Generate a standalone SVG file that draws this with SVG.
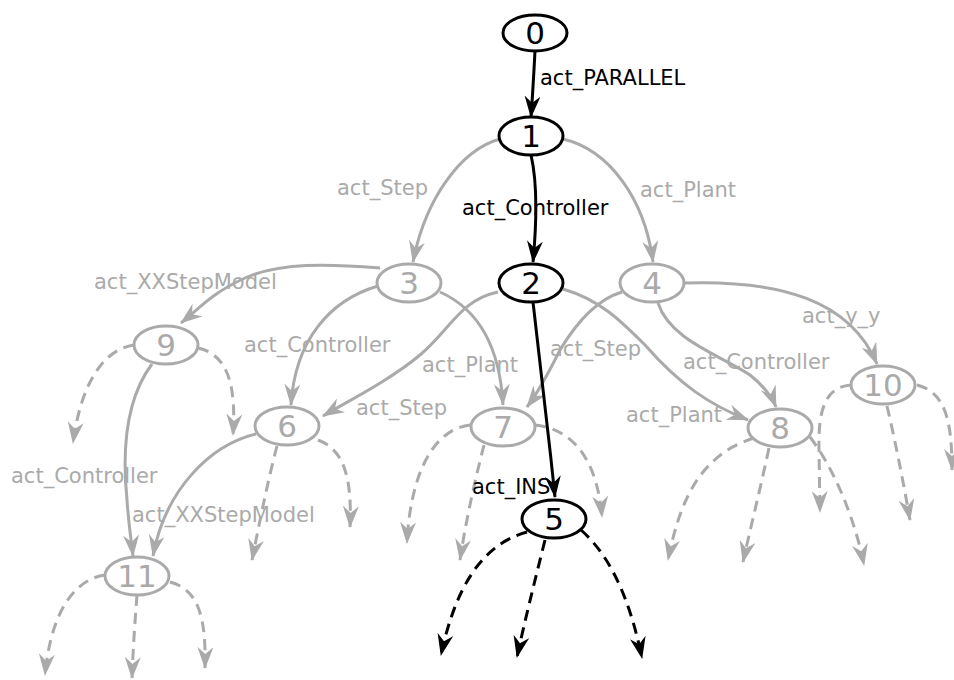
<svg xmlns="http://www.w3.org/2000/svg" width="954" height="680" viewBox="0 0 954 680">
<style>
  .e { fill: none; stroke-width: 3; stroke-linecap: butt; }
  .g { stroke: #aaaaaa; }
  .k { stroke: #000000; }
  .d { stroke-dasharray: 11 7; }
  .gs { stroke: #aaaaaa; marker-end: url(#ag); }
  .ks { stroke: #000000; marker-end: url(#ak); }
  .n { fill: none; stroke-width: 3; }
  .nl { font-family: "DejaVu Sans", sans-serif; font-size: 31px; text-anchor: middle; }
  .el { font-family: "DejaVu Sans", sans-serif; font-size: 21px; }
  .tg { fill: #aaaaaa; }
  .tk { fill: #000000; }
</style>
<defs>
  <marker id="ag" markerUnits="userSpaceOnUse" viewBox="0 0 22 16" refX="21" refY="8" markerWidth="22" markerHeight="16" orient="auto">
    <path d="M0,0 L22,8 L0,16 L7,8 Z" fill="#aaaaaa"/>
  </marker>
  <marker id="ak" markerUnits="userSpaceOnUse" viewBox="0 0 22 16" refX="21" refY="8" markerWidth="22" markerHeight="16" orient="auto">
    <path d="M0,0 L22,8 L0,16 L7,8 Z" fill="#000000"/>
  </marker>
</defs>
<rect width="954" height="680" fill="#ffffff"/>
<g id="connectors">
  <!-- solid gray edges -->
  <path class="e gs" d="M500,139 C460,150 425,200 413,262"/>
  <path class="e gs" d="M563,139 C610,150 645,200 653,262"/>
  <path class="e gs" d="M380,268 C330,264 280,262 245,278 S200,308 181,323"/>
  <path class="e gs" d="M378,286 C330,300 295,340 291,405"/>
  <path class="e gs" d="M440,292 C480,310 500,350 503,405"/>
  <path class="e gs" d="M498,292 C460,300 450,330 420,355 C390,380 350,400 323,416"/>
  <path class="e gs" d="M622,292 C595,300 575,325 560,350 C550,370 540,390 527,407"/>
  <path class="e gs" d="M563,289 C600,300 620,320 645,345 C680,385 710,405 748,420"/>
  <path class="e gs" d="M658,303 C670,340 720,355 750,375 C765,387 772,397 776,407"/>
  <path class="e gs" d="M685,283 C780,280 850,300 877,364"/>
  <path class="e gs" d="M152,364 C125,400 122,450 127,500 C129,530 132,545 133,556"/>
  <path class="e gs" d="M256,434 C210,445 165,490 153,556"/>
  <!-- dashed gray stubs -->
  <path class="e gs d" d="M134,345 C100,350 80,390 73,443"/>
  <path class="e gs d" d="M198,348 C230,355 236,390 233,435"/>
  <path class="e gs d" d="M277,446 C268,480 260,520 252,560"/>
  <path class="e gs d" d="M318,440 C345,450 352,480 350,527"/>
  <path class="e gs d" d="M470,425 C430,430 410,480 407,543"/>
  <path class="e gs d" d="M484,445 C475,480 466,520 460,560"/>
  <path class="e gs d" d="M535,425 C580,430 598,470 602,517"/>
  <path class="e gs d" d="M754,438 C700,455 680,500 668,560"/>
  <path class="e gs d" d="M769,448 C760,490 750,530 743,562"/>
  <path class="e gs d" d="M810,437 C835,470 855,520 864,565"/>
  <path class="e gs d" d="M851,385 C825,387 818,410 819,450 L820,512"/>
  <path class="e gs d" d="M887,406 C895,440 903,480 910,520"/>
  <path class="e gs d" d="M917,385 C945,392 952,420 952,470"/>
  <path class="e gs d" d="M105,575 C70,580 50,620 45,675"/>
  <path class="e gs d" d="M137,595 C135,620 133,650 132,678"/>
  <path class="e gs d" d="M170,582 C200,590 206,620 205,668"/>
  <!-- black edges -->
  <path class="e ks" d="M535,51 C534,70 533,90 531,117"/>
  <path class="e ks" d="M531,155 C538,185 536,230 533,262"/>
  <path class="e ks" d="M533,302 C540,360 548,430 555,497"/>
  <path class="e ks d" d="M527,532 C480,545 455,590 441,655"/>
  <path class="e ks d" d="M545,540 C535,580 525,620 517,657"/>
  <path class="e ks d" d="M581,530 C615,560 632,610 642,658"/>
  <!-- edge labels -->
  <text class="el tk" x="540" y="85">act_PARALLEL</text>
  <text class="el tg" x="337" y="195">act_Step</text>
  <text class="el tk" x="462" y="215">act_Controller</text>
  <text class="el tg" x="640" y="197">act_Plant</text>
  <text class="el tg" x="94" y="289">act_XXStepModel</text>
  <text class="el tg" x="244" y="352">act_Controller</text>
  <text class="el tg" x="422" y="372">act_Plant</text>
  <text class="el tg" x="356" y="415">act_Step</text>
  <text class="el tg" x="550" y="356">act_Step</text>
  <text class="el tg" x="683" y="369">act_Controller</text>
  <text class="el tg" x="626" y="422">act_Plant</text>
  <text class="el tg" x="802" y="323">act_y_y</text>
  <text class="el tg" x="11" y="483">act_Controller</text>
  <text class="el tg" x="132" y="522">act_XXStepModel</text>
  <text class="el tk" x="472" y="494">act_INS</text>
</g>
<g id="node-0"><ellipse class="n k" cx="535" cy="33" rx="32" ry="18"/><text class="nl tk" x="535" y="44">0</text></g>
<g id="node-1"><ellipse class="n k" cx="531" cy="136" rx="32" ry="19"/><text class="nl tk" x="531" y="147">1</text></g>
<g id="node-2"><ellipse class="n k" cx="531" cy="283" rx="32" ry="19"/><text class="nl tk" x="531" y="294">2</text></g>
<g id="node-3"><ellipse class="n g" cx="409" cy="283" rx="32" ry="19"/><text class="nl tg" x="409" y="294">3</text></g>
<g id="node-4"><ellipse class="n g" cx="652" cy="283" rx="32" ry="19"/><text class="nl tg" x="652" y="294">4</text></g>
<g id="node-5"><ellipse class="n k" cx="554" cy="519" rx="32" ry="19"/><text class="nl tk" x="554" y="530">5</text></g>
<g id="node-6"><ellipse class="n g" cx="287" cy="426" rx="32" ry="19"/><text class="nl tg" x="287" y="437">6</text></g>
<g id="node-7"><ellipse class="n g" cx="503" cy="427" rx="32" ry="19"/><text class="nl tg" x="503" y="438">7</text></g>
<g id="node-8"><ellipse class="n g" cx="780" cy="428" rx="32" ry="19"/><text class="nl tg" x="780" y="439">8</text></g>
<g id="node-9"><ellipse class="n g" cx="166" cy="345" rx="32" ry="19"/><text class="nl tg" x="166" y="356">9</text></g>
<g id="node-10"><ellipse class="n g" cx="883" cy="385" rx="32" ry="19"/><text class="nl tg" x="883" y="396">10</text></g>
<g id="node-11"><ellipse class="n g" cx="137" cy="576" rx="32" ry="19"/><text class="nl tg" x="137" y="587">11</text></g>
</svg>
